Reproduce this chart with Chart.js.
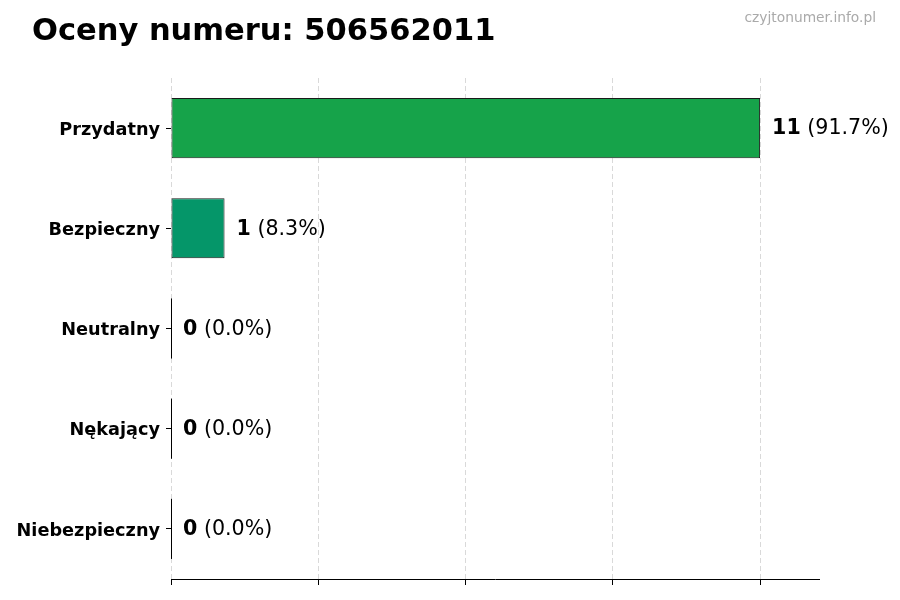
<!DOCTYPE html>
<html>
<head>
<meta charset="utf-8">
<script src="https://cdn.jsdelivr.net/npm/chart.js@4/dist/chart.umd.min.js"></script>
<style>
html,body{margin:0;padding:0;background:#fff;}
#wrap{width:900px;height:600px;position:relative;}
</style>
</head>
<body>
<div id="wrap"><canvas id="c" width="900" height="600"></canvas></div>
<script>
const categories = ['Przydatny', 'Bezpieczny', 'Neutralny', 'Nękający', 'Niebezpieczny'];
const counts = [11, 1, 0, 0, 0];
const barColors = ['#16a34a', '#059669', '#6b7280', '#ea580c', '#dc2626'];
const xTicks = [0, 2.75, 5.5, 8.25, 11];
const xMax = 12.1;
const titleText = 'Oceny numeru: 506562011';
const watermark = 'czyjtonumer.info.pl';

const FONT = "'DejaVu Sans', sans-serif";
const total = counts.reduce((a, b) => a + b, 0);

const overlay = {
  id: 'overlay',
  afterDatasetsDraw(chart) {
    const ctx = chart.ctx;
    const xs = chart.scales.x;
    const meta = chart.getDatasetMeta(0);
    ctx.save();
    meta.data.forEach((bar, i) => {
      if (counts[i] === 0) {
        const h = bar.height;
        const x0 = xs.getPixelForValue(0);
        ctx.strokeStyle = '#000';
        ctx.lineWidth = 1;
        ctx.beginPath();
        ctx.moveTo(x0 + 0.5, bar.y - h / 2);
        ctx.lineTo(x0 + 0.5, bar.y + h / 2);
        ctx.stroke();
      }
    });
    ctx.textBaseline = 'middle';
    ctx.textAlign = 'left';
    meta.data.forEach((bar, i) => {
      const x = xs.getPixelForValue(counts[i]) + 12;
      const y = bar.y + 1;
      const pct = total ? (counts[i] / total * 100).toFixed(1) : '0.0';
      ctx.fillStyle = '#000';
      ctx.font = 'bold 20.6px ' + FONT;
      const num = String(counts[i]);
      ctx.fillText(num, x, y);
      const w = ctx.measureText(num).width;
      ctx.font = '20.6px ' + FONT;
      ctx.fillText(' (' + pct + '%)', x + w, y);
    });
    ctx.restore();
  },
  afterDraw(chart) {
    const ctx = chart.ctx;
    ctx.save();
    ctx.fillStyle = '#000';
    ctx.font = 'bold 30.5px ' + FONT;
    ctx.textAlign = 'left';
    ctx.textBaseline = 'alphabetic';
    ctx.fillText(titleText, 32, 40);
    ctx.fillStyle = '#aaaaaa';
    ctx.font = '13.8px ' + FONT;
    ctx.textAlign = 'right';
    ctx.fillText(watermark, 876, 22);
    ctx.restore();
  }
};

new Chart(document.getElementById('c'), {
  type: 'bar',
  data: {
    labels: categories,
    datasets: [{
      data: counts,
      backgroundColor: barColors,
      borderColor: '#1a1a1a',
      borderWidth: 1,
      borderSkipped: false,
      barPercentage: 0.6,
      categoryPercentage: 1.0
    }]
  },
  options: {
    indexAxis: 'y',
    responsive: false,
    animation: false,
    devicePixelRatio: 1,
    layout: { padding: { top: 78, right: 81, left: 0, bottom: 0 } },
    plugins: { legend: { display: false }, tooltip: { enabled: false }, title: { display: false } },
    scales: {
      x: {
        type: 'linear',
        min: 0,
        max: xMax,
        z: 1,
        afterBuildTicks(scale) { scale.ticks = xTicks.map(v => ({ value: v })); },
        afterFit(scale) { scale.height = 21; },
        ticks: { display: false },
        grid: {
          display: true,
          color: 'rgba(128,128,128,0.3)',
          lineWidth: 1,
          drawTicks: true,
          tickLength: 6,
          tickColor: '#000',
          tickWidth: 1
        },
        border: { display: true, color: '#000', width: 1, dash: [5, 3] }
      },
      y: {
        afterFit(scale) { scale.width = 171; },
        grid: {
          offset: false,
          drawOnChartArea: false,
          drawTicks: true,
          tickLength: 5,
          tickColor: '#000'
        },
        border: { display: false },
        ticks: {
          color: '#000',
          padding: 6,
          labelOffset: 2,
          font: { family: FONT, size: 17.7, weight: 'bold' }
        }
      }
    }
  },
  plugins: [overlay]
});
</script>
</body>
</html>
